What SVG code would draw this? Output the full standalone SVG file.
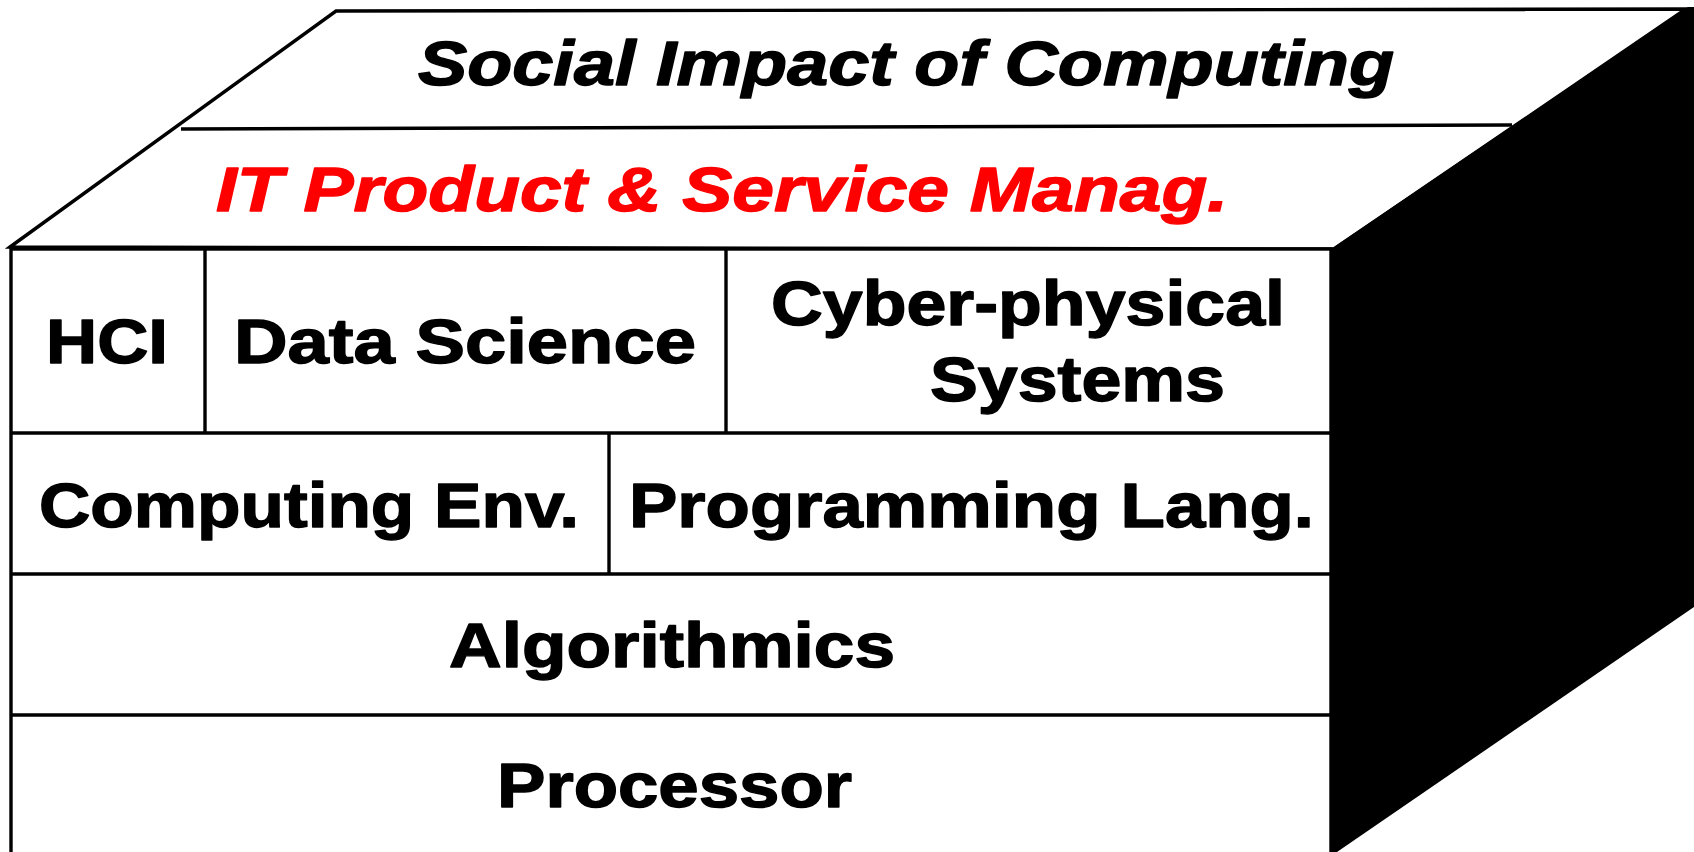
<svg xmlns="http://www.w3.org/2000/svg" width="1694" height="852" viewBox="0 0 1694 852">
  <style>
    .ln { fill: none; stroke: #000; stroke-width: 3.4; }
    .face { fill: #fff; stroke: #000; stroke-width: 3.4; stroke-linejoin: miter; }
    .lbl { font-family: "Liberation Sans", Arial, sans-serif; font-weight: bold; font-size: 63px; fill: #000; stroke: #000; stroke-width: 1.4; stroke-linejoin: round; }
    .it { font-style: italic; }
    .red { fill: #ff0000; stroke: #ff0000; }
  </style>
  <rect width="1694" height="852" fill="#fff"/>
  <g id="box">
    <polygon id="top-face" class="face" points="10,247 336,11 1686,9 1334,249"/>
    <polygon id="side-face" fill="#000" points="1331,249 1688,7 1694,7 1694,607 1337,852 1331,852"/>
    <rect id="front-face" class="face" x="11" y="249" width="1320" height="620"/>
  </g>
  <g id="connectors">
    <line class="ln" x1="181" y1="129" x2="1512" y2="125"/>
    <line class="ln" x1="11" y1="433" x2="1331" y2="433"/>
    <line class="ln" x1="11" y1="574" x2="1331" y2="574"/>
    <line class="ln" x1="11" y1="715" x2="1331" y2="715"/>
    <line class="ln" x1="205" y1="249" x2="205" y2="433"/>
    <line class="ln" x1="726" y1="249" x2="726" y2="433"/>
    <line class="ln" x1="609" y1="433" x2="609" y2="574"/>
  </g>
  <g id="social"><text class="lbl it" x="418" y="85" font-size="66" textLength="976" lengthAdjust="spacingAndGlyphs">Social Impact of Computing</text></g>
  <g id="itpsm"><text class="lbl it red" x="216" y="211" textLength="1012" lengthAdjust="spacingAndGlyphs">IT Product &amp; Service Manag.</text></g>
  <g id="hci"><text class="lbl" x="46" y="363" textLength="122" lengthAdjust="spacingAndGlyphs">HCI</text></g>
  <g id="datascience"><text class="lbl" x="234" y="363" textLength="462" lengthAdjust="spacingAndGlyphs">Data Science</text></g>
  <g id="cps">
    <text class="lbl" x="771" y="325" textLength="514" lengthAdjust="spacingAndGlyphs">Cyber-physical</text>
    <text class="lbl" x="930" y="401" textLength="295" lengthAdjust="spacingAndGlyphs">Systems</text>
  </g>
  <g id="compenv"><text class="lbl" x="39" y="527" textLength="540" lengthAdjust="spacingAndGlyphs">Computing Env.</text></g>
  <g id="proglang"><text class="lbl" x="629" y="527" textLength="685" lengthAdjust="spacingAndGlyphs">Programming Lang.</text></g>
  <g id="algo"><text class="lbl" x="449" y="667" textLength="446" lengthAdjust="spacingAndGlyphs">Algorithmics</text></g>
  <g id="proc"><text class="lbl" x="497" y="807" textLength="355" lengthAdjust="spacingAndGlyphs">Processor</text></g>
</svg>
